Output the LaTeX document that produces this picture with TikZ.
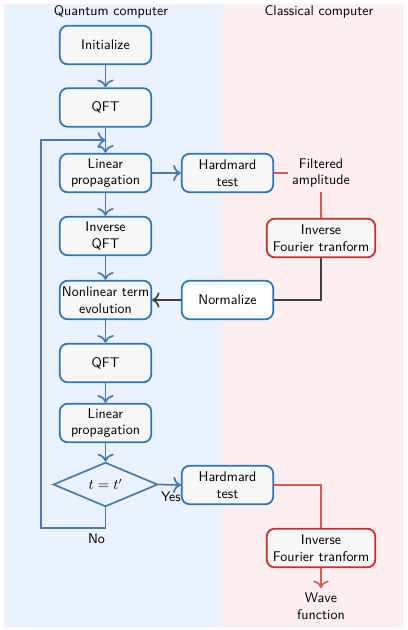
\documentclass[tikz,border=0pt]{standalone}
\usepackage{amsmath}
\usepackage{tikz}
\usetikzlibrary{shapes.geometric,calc,arrows.meta}

\definecolor{boxblue}{RGB}{46,117,182}
\definecolor{lineblue}{RGB}{74,122,180}
\definecolor{boxred}{RGB}{206,44,44}
\definecolor{linered}{RGB}{222,88,88}
\definecolor{darkline}{RGB}{64,64,64}
\definecolor{bgblue}{RGB}{235,242,251}
\definecolor{bgred}{RGB}{252,239,240}
\definecolor{boxfill}{RGB}{247,247,247}

\begin{document}
\begin{tikzpicture}[x=0.75pt,y=-0.75pt, >={To[scale=1.3]},
	font=\sffamily\fontsize{10.5pt}{12.5pt}\selectfont,
	qbox/.style={draw=boxblue, line width=1.3pt, fill=boxfill, rounded corners=6pt,
		minimum width=68.6pt, minimum height=29pt, align=center, inner xsep=1pt, inner ysep=2pt},
	cbox/.style={qbox, draw=boxred, minimum width=81.4pt},
	decision/.style={diamond, draw=lineblue, line width=1.3pt, minimum width=78.4pt,
		minimum height=31pt, inner sep=0pt},
	flow/.style={->, draw=lineblue, line width=1.3pt},
	redline/.style={draw=linered, line width=1.2pt},
	darkflow/.style={draw=darkline, line width=1.2pt}]

	% Background panels
	\useasboundingbox (0,0) rectangle (407,630);
	\fill[bgblue] (4,4) rectangle (223,627);
	\fill[bgred] (223,4) rectangle (404,627);
	\node (qtitle) at (111,12) {Quantum computer};
	\node (ctitle) at (319,12) {Classical computer};

	% Quantum side
	\node[qbox] (init) at (105.5,45) {Initialize};
	\node[qbox] (qft1) at (105.5,107.5) {QFT};
	\node[qbox] (lin1) at (105.5,173) {Linear\\propagation};
	\node[qbox] (iqft) at (105.5,236) {Inverse\\QFT};
	\node[qbox] (nonlin) at (105.5,300) {Nonlinear term\\evolution};
	\node[qbox] (qft2) at (105.5,363) {QFT};
	\node[qbox] (lin2) at (105.5,423) {Linear\\propagation};
	\node[decision] (dec) at (105.5,484.5) {$t=t'$};
	\node[qbox] (had1) at (227.5,173) {Hardmard\\test};
	\node[qbox, fill=white] (norm) at (227.5,300) {Normalize};
	\node[qbox] (had2) at (227.5,485) {Hardmard\\test};

	% Classical side
	\node[align=center] (filt) at (321,173) {Filtered\\amplitude};
	\node[cbox] (ift1) at (321,238) {Inverse\\Fourier tranform};
	\node[cbox] (ift2) at (321,548) {Inverse\\Fourier tranform};
	\node[align=center] (wave) at (321,606) {Wave\\function};

	% Main flow
	\draw[flow] (init) -- (qft1);
	\draw[flow] (qft1) -- (lin1);
	\draw[flow] (lin1) -- (iqft);
	\draw[flow] (iqft) -- (nonlin);
	\draw[flow] (nonlin) -- (qft2);
	\draw[flow] (qft2) -- (lin2);
	\draw[flow] (lin2) -- (dec);
	\draw[flow] (lin1) -- (had1);
	\draw[flow] (dec.east) -- node[below, pos=0.55, yshift=-1.5pt] {Yes} (had2.west);

	% Loop back
	\coordinate (loopin) at ($(qft1.south)!0.5!(lin1.north)$);
	\draw[flow] (dec.south) |- (41,528) node[pos=0.57, below] {No} |- (loopin);

	% Classical links
	\draw[redline] (had1.east) -- (filt.west);
	\draw[redline] (filt.south) -- (ift1.north);
	\draw[darkflow] (ift1.south) |- (norm.east);
	\draw[darkflow, ->] (norm.west) -- (nonlin.east);
	\draw[redline] (had2.east) -| (ift2.north);
	\draw[redline, ->] (ift2.south) -- (wave.north);

\end{tikzpicture}
\end{document}
